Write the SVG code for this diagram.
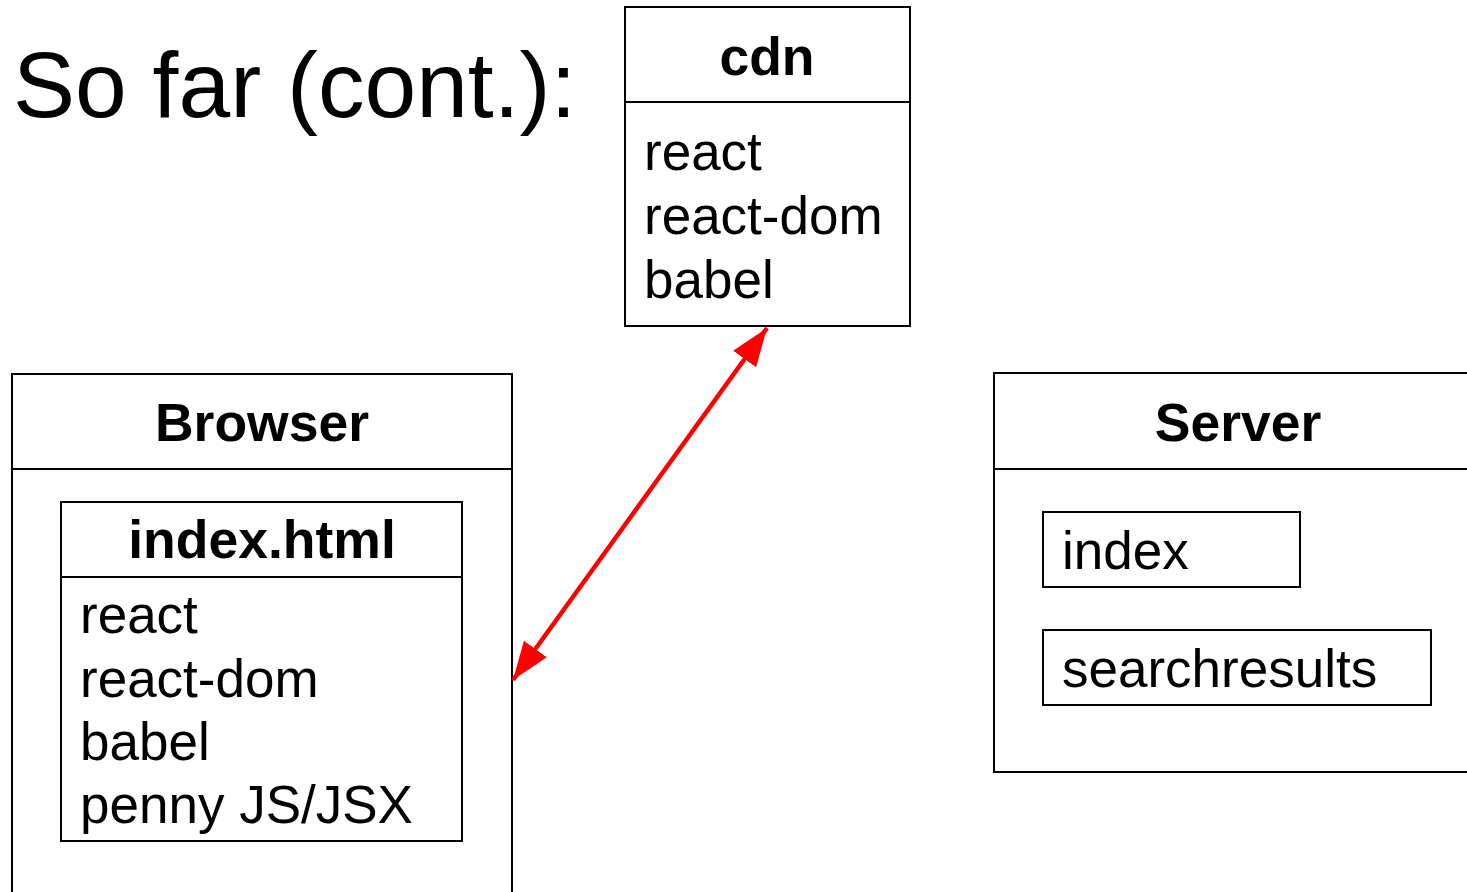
<svg xmlns="http://www.w3.org/2000/svg" width="1467" height="892" viewBox="0 0 1467 892">
  <style>
    text { font-family: "Liberation Sans", Arial, sans-serif; fill: #000; }
    .title { font-size: 93px; }
    .head { font-size: 53.5px; font-weight: bold; text-anchor: middle; }
    .item { font-size: 53px; }
    .box { fill: #fff; stroke: #000; stroke-width: 2; }
    .rule { stroke: #000; stroke-width: 2; }
    .link { stroke: #ff0000; stroke-width: 4.5; fill: none; }
  </style>
  <defs>
    <marker id="arrowhead" viewBox="0 0 19 14" refX="19" refY="7" markerWidth="8.5" markerHeight="6.3" markerUnits="strokeWidth" orient="auto-start-reverse">
      <path d="M0,0 L19,7 L0,14 z" fill="#ff0000"/>
    </marker>
  </defs>

  <rect width="1467" height="892" fill="#fff"/>

  <text class="title" x="13" y="117">So far (cont.):</text>

  <g id="cdn">
    <rect class="box" x="625" y="7" width="285" height="319"/>
    <line class="rule" x1="625" y1="102" x2="910" y2="102"/>
    <text class="head" x="767" y="75">cdn</text>
    <text class="item" x="644" y="170">react</text>
    <text class="item" x="644" y="234">react-dom</text>
    <text class="item" x="644" y="298">babel</text>
  </g>

  <g id="browser">
    <rect class="box" x="12" y="374" width="500" height="530"/>
    <line class="rule" x1="12" y1="469" x2="512" y2="469"/>
    <text class="head" x="262" y="441">Browser</text>
    <g id="index-html">
      <rect class="box" x="61" y="502" width="401" height="339"/>
      <line class="rule" x1="61" y1="577" x2="462" y2="577"/>
      <text class="head" x="262" y="558">index.html</text>
      <text class="item" x="80" y="633">react</text>
      <text class="item" x="80" y="697">react-dom</text>
      <text class="item" x="80" y="760">babel</text>
      <text class="item" x="80" y="823">penny JS/JSX</text>
    </g>
  </g>

  <g id="server">
    <rect class="box" x="994" y="373" width="500" height="399"/>
    <line class="rule" x1="994" y1="469" x2="1494" y2="469"/>
    <text class="head" x="1238" y="441">Server</text>
    <g id="server-index">
      <rect class="box" x="1043" y="512" width="257" height="75"/>
      <text class="item" x="1062" y="569">index</text>
    </g>
    <g id="server-searchresults">
      <rect class="box" x="1043" y="630" width="388" height="75"/>
      <text class="item" x="1062" y="687">searchresults</text>
    </g>
  </g>

  <g id="connectors">
    <line class="link" x1="513" y1="680" x2="767" y2="328" marker-start="url(#arrowhead)" marker-end="url(#arrowhead)"/>
  </g>
</svg>
